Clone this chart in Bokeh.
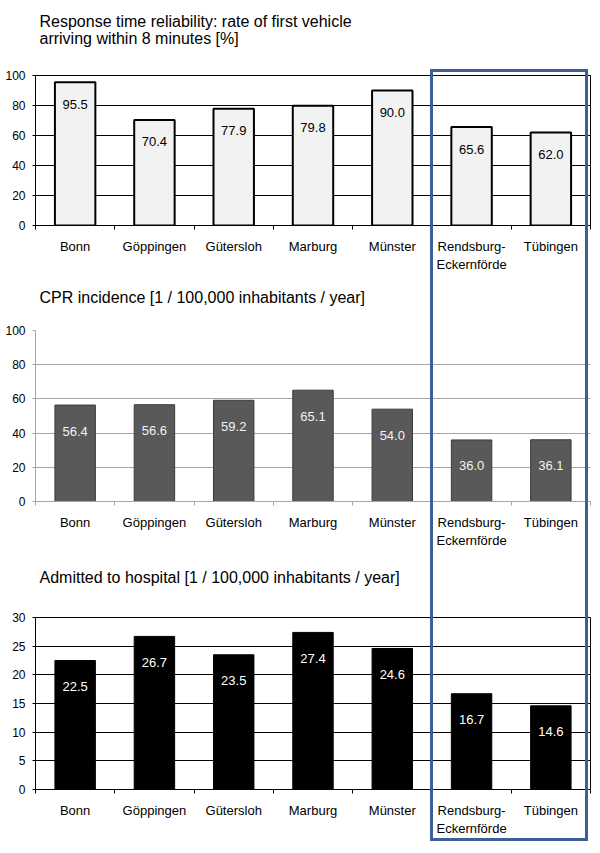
from bokeh.plotting import figure
from bokeh.models import (Range1d, FixedTicker, ColumnDataSource, Title,
                          LinearAxis, Div)
from bokeh.layouts import column
from bokeh.embed import file_html
from bokeh.resources import INLINE
from bokeh.core.properties import value

# ---------------- data ----------------
cities = ["Bonn", "Göppingen", "Gütersloh", "Marburg", "Münster",
          "Rendsburg-\nEckernförde", "Tübingen"]
response_rate = [95.5, 70.4, 77.9, 79.8, 90.0, 65.6, 62.0]
cpr_incidence = [56.4, 56.6, 59.2, 65.1, 54.0, 36.0, 36.1]
admitted = [22.5, 26.7, 23.5, 27.4, 24.6, 16.7, 14.6]
ticks_pct = [0, 20, 40, 60, 80, 100]
ticks_adm = [0, 5, 10, 15, 20, 25, 30]
title_response = "Response time reliability: rate of first vehicle\narriving within 8 minutes [%]"
title_cpr = "CPR incidence [1 / 100,000 inhabitants / year]"
title_adm = "Admitted to hospital [1 / 100,000 inhabitants / year]"
highlighted = ["Rendsburg-\nEckernförde", "Tübingen"]

FONT = "Liberation Sans"
BOX_COLOR = "#3c5f96"
W = 598
BL, BR = 35, 8          # left / right borders -> frame from x=35 to x=590


def make_panel(title, values, yticks, height, b_top, b_bottom, fill, line, lw,
               lab_color, grid_color, axis_color, outline, title_gap, lab_off):
    n = len(cities)
    xs = [i + 0.5 for i in range(n)]
    ymax = yticks[-1]
    p = figure(width=W, height=height, output_backend="svg", toolbar_location=None,
               x_range=Range1d(0, n), y_range=Range1d(0, ymax),
               min_border_left=BL, min_border_right=BR,
               min_border_top=b_top, min_border_bottom=b_bottom)

    src = ColumnDataSource(dict(x=xs, top=values,
                                lab=[f"{v:.1f}" for v in values]))
    p.vbar(x="x", top="top", width=0.51, source=src, fill_color=fill,
           line_color=line, line_width=lw)
    p.text(x="x", y="top", text="lab", source=src, text_align="center",
           text_baseline="middle", y_offset=lab_off, text_color=lab_color,
           text_font=value(FONT), text_font_size="13px")

    p.xgrid.visible = False
    p.ygrid.ticker = FixedTicker(ticks=yticks)
    p.ygrid.grid_line_color = grid_color
    p.ygrid.grid_line_width = 1

    ya = p.left[0]
    ya.ticker = FixedTicker(ticks=yticks, minor_ticks=[])
    ya.axis_line_color = axis_color
    ya.major_tick_line_color = axis_color
    ya.major_tick_in = 0
    ya.major_tick_out = 3
    ya.minor_tick_line_color = None
    ya.major_label_text_font = FONT
    ya.major_label_text_font_size = "12px"
    ya.major_label_text_color = "black"
    ya.major_label_standoff = 7

    xa = p.below[0]
    xa.ticker = FixedTicker(ticks=xs, minor_ticks=list(range(n + 1)))
    xa.major_label_overrides = {x: c for x, c in zip(xs, cities)}
    xa.axis_line_color = axis_color
    xa.major_tick_line_color = None
    xa.major_tick_in = 0
    xa.major_tick_out = 0
    xa.minor_tick_line_color = axis_color
    xa.minor_tick_in = 0
    xa.minor_tick_out = 4
    xa.major_label_text_font = FONT
    xa.major_label_text_font_size = "13px"
    xa.major_label_text_color = "black"
    xa.major_label_standoff = 9

    # invisible spacer between frame and title (one hidden tick)
    mid = n / 2
    spacer = LinearAxis(ticker=FixedTicker(ticks=[mid], minor_ticks=[]),
                        axis_line_color=None,
                        major_tick_line_color=None, minor_tick_line_color=None,
                        major_tick_out=title_gap, major_tick_in=0,
                        minor_tick_out=0, minor_tick_in=0,
                        major_label_overrides={mid: " "},
                        major_label_standoff=0, major_label_text_font_size="1px",
                        major_label_text_color=None)
    p.add_layout(spacer, "above")
    p.add_layout(Title(text=title, align="left", offset=4, text_font=FONT,
                       text_font_size="16px", text_font_style="normal",
                       text_color="black"), "above")

    p.outline_line_color = "black" if outline else None
    p.background_fill_color = "white"
    p.border_fill_color = "white"
    return p


H1, H2, H3 = 274, 279, 299
T1, T3, B3 = 75, 64, 63
p1 = make_panel(title_response, response_rate, ticks_pct, H1, T1, 48,
                "#f2f2f2", "black", 2, "black", "black", "black", True, 24, 22)
p2 = make_panel(title_cpr, cpr_incidence, ticks_pct, H2, 56, 52,
                "#595959", "#3a3a3a", 1, "#f2f2f2", "#a6a6a6", "#a6a6a6", False, 20, 26)
p3 = make_panel(title_adm, admitted, ticks_adm, H3, T3, B3,
                "black", "black", 1, "white", "black", "black", True, 27, 26)

# highlight box around the last two districts, spanning all three panels
n = len(cities)
cat_w = (W - BL - BR) / n
first = cities.index(highlighted[0])
last = cities.index(highlighted[-1])
bx0 = BL + first * cat_w - 1.5
bx1 = BL + (last + 0.96) * cat_w + 1.5
by0 = T1 - 6
by1 = H1 + H2 + H3 - B3 + 52
box = Div(text="", width=round(bx1 - bx0), height=round(by1 - by0),
          margin=(round(by0 - (H1 + H2 + H3)), 0, 0, round(bx0)),
          styles={"border": f"3px solid {BOX_COLOR}", "box-sizing": "border-box",
                  "position": "relative", "z-index": "5",
                  "pointer-events": "none", "background": "transparent"})

layout = column(p1, p2, p3, box, spacing=0)
open("out.html", "w").write(file_html(layout, INLINE))
